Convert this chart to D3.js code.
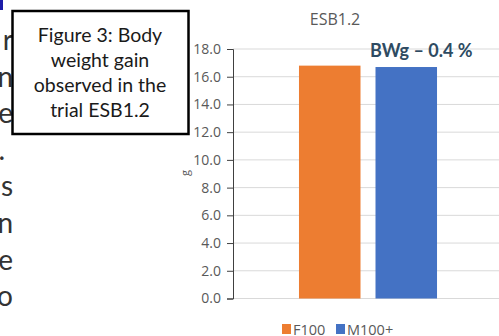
<!DOCTYPE html>
<html lang="en">
  <head>
    <meta charset="utf-8">
    <title>ESB1.2</title>
    <script src="https://d3js.org/d3.v7.js"></script>
    <style>
      body { margin: 0; background: #fff; }
    </style>
  </head>

  <body>
    <script>
      // chart values
      const categories = ["ESB1.2"];
      const series = ["F100", "M100+"];
      const values = [16.8, 16.7];
      const yTicks = [0, 2, 4, 6, 8, 10, 12, 14, 16, 18];
      const colors = ["#ED7D31", "#4472C4"];
      const note = "BWg \u2013 0.4 %";
      const boxLines = ["Figure 3: Body", "weight gain", "observed in the", "trial ESB1.2"];
      const sideText = ["r", "n", "e", ".", "s", "n", "e", "o"];

      const w = 499;
      const h = 336;
      const margin = { top: 49, right: -4, bottom: 37.5, left: 233 };
      const innerWidth = w - margin.left - margin.right;
      const innerHeight = h - margin.top - margin.bottom;
      const docFont = "Lato, sans-serif";
      const chartFont = "'Open Sans', sans-serif";

      const svg = d3.select("body")
        .append("svg")
        .attr("width", w)
        .attr("height", h);

      // clipped text of the page behind the chart
      svg.append("rect")
        .attr("x", 0).attr("y", 0)
        .attr("width", 3).attr("height", 10)
        .attr("fill", "#1d1da8");

      svg.append("g")
        .selectAll("text")
        .data(sideText)
        .enter().append("text")
        .attr("x", d => d === "." ? 5 : 13)
        .attr("y", (d, i) => 50 + i * 36.6)
        .attr("text-anchor", "end")
        .style("font-family", docFont)
        .style("font-size", "28px")
        .attr("fill", "#333")
        .text(d => d);

      // caption box
      svg.append("rect")
        .attr("x", 12.5)
        .attr("y", 11)
        .attr("width", 176)
        .attr("height", 123)
        .attr("fill", "#fff")
        .attr("stroke", "#000")
        .attr("stroke-width", 2.5);

      svg.append("g")
        .selectAll("text")
        .data(boxLines)
        .enter().append("text")
        .attr("x", 100)
        .attr("y", (d, i) => 42 + i * 25)
        .attr("text-anchor", "middle")
        .style("font-family", docFont)
        .style("font-size", "19.5px")
        .attr("fill", "#1a1a1a")
        .text(d => d);

      // scales
      const x0 = d3.scaleBand()
        .domain(categories)
        .range([0, innerWidth])
        .paddingOuter(0.478);

      const x1 = d3.scaleBand()
        .domain(series)
        .range([0, x0.bandwidth()])
        .paddingInner(0.196);

      const yScale = d3.scaleLinear()
        .domain([0, 18])
        .range([innerHeight, 0]);

      const plot = svg.append("g")
        .attr("transform", `translate(${margin.left}, ${margin.top})`);

      // gridlines
      plot.append("g")
        .selectAll("line")
        .data(yTicks)
        .enter().append("line")
        .attr("x1", 0)
        .attr("x2", innerWidth)
        .attr("y1", d => yScale(d))
        .attr("y2", d => yScale(d))
        .attr("stroke", "#d9d9d9")
        .attr("stroke-width", 1);

      // bars
      plot.append("g")
        .selectAll("rect")
        .data(series.map((s, i) => ({ cat: categories[0], s: s, v: values[i], c: colors[i] })))
        .enter().append("rect")
        .attr("x", d => x0(d.cat) + x1(d.s))
        .attr("y", d => yScale(d.v))
        .attr("width", x1.bandwidth())
        .attr("height", d => innerHeight - yScale(d.v))
        .attr("fill", d => d.c);

      // y axis
      const yAxis = d3.axisLeft(yScale)
        .tickValues(yTicks)
        .tickSize(6)
        .tickPadding(6)
        .tickFormat(d3.format(".1f"));

      const yg = plot.append("g").call(yAxis);
      yg.select(".domain").attr("stroke", "#404040");
      yg.selectAll(".tick line").attr("stroke", "#404040");
      yg.selectAll("text")
        .style("font-family", chartFont)
        .style("font-size", "14px")
        .attr("fill", "#595959");

      // axis label
      svg.append("text")
        .attr("transform", "translate(189, 173) rotate(-90)")
        .attr("text-anchor", "middle")
        .style("font-family", chartFont)
        .style("font-size", "11px")
        .attr("fill", "#595959")
        .text("g");

      // title
      svg.append("text")
        .attr("x", 335)
        .attr("y", 25)
        .attr("text-anchor", "middle")
        .style("font-family", chartFont)
        .style("font-size", "16px")
        .attr("fill", "#595959")
        .text(categories[0]);

      // annotation
      svg.append("text")
        .attr("x", 370)
        .attr("y", 57)
        .style("font-family", docFont)
        .style("font-size", "18px")
        .style("font-weight", "bold")
        .attr("fill", "#2E4B62")
        .text(note);

      // legend
      const legend = svg.append("g")
        .attr("transform", "translate(282, 324)");

      const items = legend.selectAll("g")
        .data(series)
        .enter().append("g")
        .attr("transform", (d, i) => `translate(${i * 54}, 0)`);

      items.append("rect")
        .attr("width", 9)
        .attr("height", 10)
        .attr("fill", (d, i) => colors[i]);

      items.append("text")
        .attr("x", 11)
        .attr("y", 11)
        .style("font-family", chartFont)
        .style("font-size", "14.5px")
        .attr("fill", "#595959")
        .text(d => d);
    </script>
  </body>
</html>
